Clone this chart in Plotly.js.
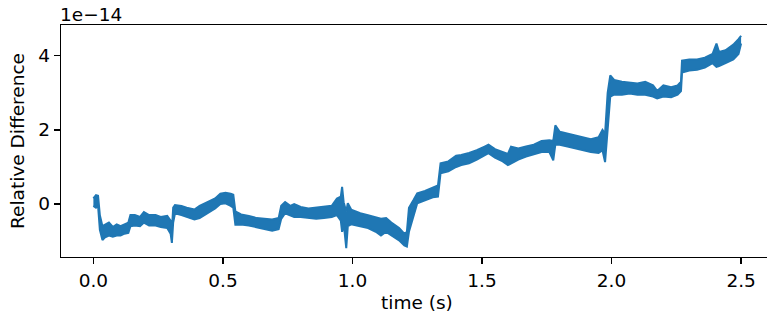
<!DOCTYPE html>
<html>
<head>
<meta charset="utf-8">
<script src="https://cdn.plot.ly/plotly-3.0.1.min.js"></script>
<style>html,body{margin:0;padding:0;background:#fff;}#chart{width:767px;height:320px;}</style>
</head>
<body>
<div id="chart"></div>
<script>
// time (s)
const time = [0.000,0.010,0.018,0.025,0.035,0.045,0.060,0.075,0.090,0.105,0.120,0.135,0.143,0.160,0.180,0.195,0.215,0.240,0.260,0.285,0.298,0.303,0.308,0.315,0.340,0.360,0.390,0.410,0.440,0.470,0.490,0.510,0.530,0.540,0.548,0.570,0.600,0.630,0.660,0.690,0.715,0.725,0.740,0.760,0.775,0.800,0.830,0.860,0.890,0.920,0.940,0.955,0.960,0.966,0.976,0.982,0.995,1.030,1.060,1.090,1.110,1.130,1.150,1.180,1.200,1.210,1.218,1.235,1.250,1.280,1.310,1.330,1.340,1.370,1.400,1.420,1.450,1.480,1.510,1.525,1.550,1.580,1.600,1.612,1.640,1.670,1.700,1.730,1.760,1.775,1.783,1.800,1.830,1.860,1.890,1.920,1.950,1.965,1.975,1.985,1.995,2.010,2.040,2.070,2.100,2.130,2.160,2.176,2.200,2.230,2.255,2.268,2.272,2.300,2.330,2.360,2.390,2.405,2.415,2.440,2.470,2.490,2.500];
// upper edge of the noisy band (units of 1e-14)
const upperEdge = [0.15,0.24,0.22,-0.30,-0.60,-0.55,-0.50,-0.62,-0.55,-0.60,-0.55,-0.50,-0.30,-0.30,-0.35,-0.22,-0.30,-0.30,-0.35,-0.32,-0.45,-0.70,-0.10,-0.03,-0.05,-0.10,-0.15,-0.05,0.05,0.15,0.28,0.30,0.28,0.25,-0.20,-0.28,-0.32,-0.38,-0.40,-0.42,-0.38,-0.05,0.05,-0.05,0.00,-0.08,-0.12,-0.10,-0.08,-0.05,0.15,0.20,0.46,0.05,-0.20,0.02,-0.15,-0.25,-0.30,-0.35,-0.40,-0.38,-0.50,-0.65,-0.80,-0.75,-0.10,0.10,0.29,0.35,0.45,0.50,1.10,1.15,1.30,1.32,1.38,1.45,1.55,1.60,1.48,1.40,1.35,1.55,1.50,1.55,1.60,1.70,1.72,1.70,2.12,1.95,1.90,1.85,1.80,1.75,1.80,2.00,1.90,3.00,3.47,3.35,3.30,3.28,3.25,3.30,3.20,3.05,3.20,3.15,3.20,3.30,3.87,3.90,3.90,3.95,4.05,4.33,4.10,4.15,4.30,4.45,4.54];
// lower edge of the noisy band (units of 1e-14)
const lowerEdge = [-0.05,-0.10,-0.05,-0.70,-0.97,-0.90,-0.85,-0.88,-0.85,-0.85,-0.80,-0.78,-0.60,-0.58,-0.60,-0.50,-0.58,-0.58,-0.62,-0.65,-0.80,-1.05,-0.50,-0.25,-0.30,-0.35,-0.42,-0.38,-0.25,-0.12,0.00,0.02,-0.05,-0.10,-0.56,-0.55,-0.58,-0.62,-0.68,-0.72,-0.68,-0.40,-0.25,-0.30,-0.35,-0.35,-0.38,-0.40,-0.38,-0.35,-0.30,-0.45,-0.75,-0.50,-1.19,-0.60,-0.55,-0.60,-0.65,-0.75,-0.85,-0.75,-0.85,-0.98,-1.12,-1.15,-0.75,-0.30,0.02,0.10,0.18,0.20,0.83,0.88,1.00,1.05,1.10,1.20,1.30,1.37,1.25,1.15,1.05,1.10,1.20,1.28,1.35,1.40,1.40,1.18,1.60,1.60,1.55,1.50,1.45,1.40,1.38,1.45,1.13,2.00,2.90,2.95,2.95,2.98,2.95,2.95,2.90,2.85,2.90,2.88,2.95,3.05,3.55,3.60,3.62,3.68,3.80,3.70,3.72,3.80,3.90,4.05,4.33];
const xTicks = [0.0, 0.5, 1.0, 1.5, 2.0, 2.5];
const xTickText = ["0.0", "0.5", "1.0", "1.5", "2.0", "2.5"];
const yTicks = [0, 2, 4];
const yTickText = ["0", "2", "4"];

const blue = '#1f77b4';
const font = {family: 'DejaVu Sans, sans-serif', size: 18.5, color: '#000'};

const traces = [
  {x: time, y: lowerEdge, mode: 'lines', line: {color: blue, width: 2}, hoverinfo: 'skip', showlegend: false},
  {x: time, y: upperEdge, mode: 'lines', fill: 'tonexty', fillcolor: blue, line: {color: blue, width: 2}, hoverinfo: 'skip', showlegend: false}
];

const layout = {
  width: 767, height: 320,
  margin: {l: 61, r: 0, t: 25, b: 63, pad: 0},
  paper_bgcolor: '#fff', plot_bgcolor: '#fff',
  font: font,
  showlegend: false,
  xaxis: {
    range: [-0.125, 2.600],
    tickvals: xTicks, ticktext: xTickText,
    ticks: 'outside', ticklen: 6, tickwidth: 1.3, tickcolor: '#000',
    showline: true, linecolor: '#000', linewidth: 1.3, mirror: true,
    showgrid: false, zeroline: false,
    tickfont: font
  },
  yaxis: {
    range: [-1.43, 4.83],
    tickvals: yTicks, ticktext: yTickText,
    ticks: 'outside', ticklen: 6, tickwidth: 1.3, tickcolor: '#000',
    showline: true, linecolor: '#000', linewidth: 1.3, mirror: false,
    showgrid: false, zeroline: false,
    tickfont: font,
    title: {text: 'Relative Difference', font: font, standoff: 8}
  },
  annotations: [
    {text: '1e\u221214', xref: 'paper', yref: 'paper', x: 0, y: 1,
     xanchor: 'left', yanchor: 'bottom', showarrow: false, font: font, yshift: -2, xshift: -3},
    {text: 'time (s)', xref: 'x', yref: 'paper', x: 1.25, y: -0.198,
     xanchor: 'center', yanchor: 'middle', showarrow: false, font: font}
  ]
};

Plotly.newPlot('chart', traces, layout, {staticPlot: true, displayModeBar: false});
</script>
</body>
</html>
